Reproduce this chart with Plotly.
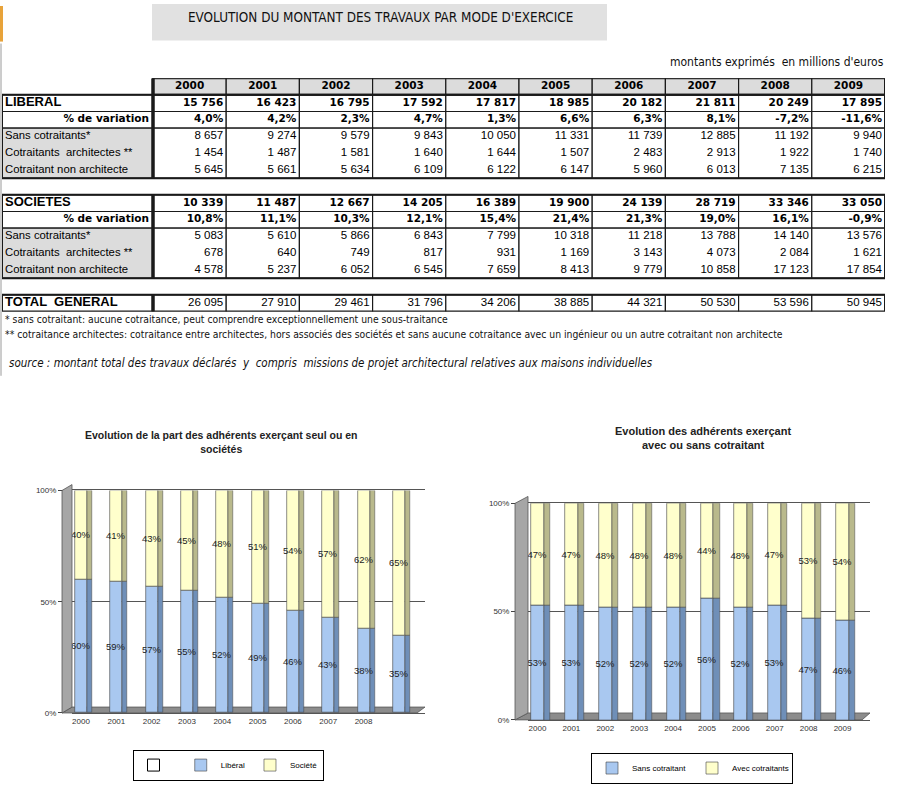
import plotly.graph_objects as go

# ---------------- data ----------------
years = ["2000", "2001", "2002", "2003", "2004", "2005", "2006", "2007", "2008", "2009"]

lib_total = [15756, 16423, 16795, 17592, 17817, 18985, 20182, 21811, 20249, 17895]
lib_var = [4.0, 4.2, 2.3, 4.7, 1.3, 6.6, 6.3, 8.1, -7.2, -11.6]
lib_sans = [8657, 9274, 9579, 9843, 10050, 11331, 11739, 12885, 11192, 9940]
lib_archi = [1454, 1487, 1581, 1640, 1644, 1507, 2483, 2913, 1922, 1740]
lib_nonarchi = [5645, 5661, 5634, 6109, 6122, 6147, 5960, 6013, 7135, 6215]

soc_total = [10339, 11487, 12667, 14205, 16389, 19900, 24139, 28719, 33346, 33050]
soc_var = [10.8, 11.1, 10.3, 12.1, 15.4, 21.4, 21.3, 19.0, 16.1, -0.9]
soc_sans = [5083, 5610, 5866, 6843, 7799, 10318, 11218, 13788, 14140, 13576]
soc_archi = [678, 640, 749, 817, 931, 1169, 3143, 4073, 2084, 1621]
soc_nonarchi = [4578, 5237, 6052, 6545, 7659, 8413, 9779, 10858, 17123, 17854]

total_general = [26095, 27910, 29461, 31796, 34206, 38885, 44321, 50530, 53596, 50945]

# chart 1 : part libéral / société (%)
c1_labels = ["2000", "2001", "2002", "2003", "2004", "2005", "2006", "2007", "2008", ""]
c1_liberal = [60, 59, 57, 55, 52, 49, 46, 43, 38, 35]
c1_societe = [40, 41, 43, 45, 48, 51, 54, 57, 62, 65]

# chart 2 : sans / avec cotraitant (%)
c2_labels = years
c2_sans = [53, 53, 52, 52, 52, 56, 52, 53, 47, 46]
c2_avec = [47, 47, 48, 48, 48, 44, 48, 47, 53, 54]

# ---------------- helpers ----------------
W, H = 900, 805
def px(x):
    return x / W
def py(y):
    return 1 - y / H

def fmt_int(v):
    return f"{v:,}".replace(",", " ")

def fmt_pct(v):
    return f"{v:.1f}%".replace(".", ",")

fig = go.Figure()

# ---------------- table (drawn on a hidden pixel-scaled axis pair x3/y3) ----------------
rows = [
    ("LIBERAL", "bold", [fmt_int(v) for v in lib_total]),
    ("% de variation", "var", [fmt_pct(v) for v in lib_var]),
    ("Sans cotraitants*", "detail", [fmt_int(v) for v in lib_sans]),
    ("Cotraitants  architectes **", "detail", [fmt_int(v) for v in lib_archi]),
    ("Cotraitant non architecte", "detail", [fmt_int(v) for v in lib_nonarchi]),
    ("", "blank", None),
    ("SOCIETES", "bold", [fmt_int(v) for v in soc_total]),
    ("% de variation", "var", [fmt_pct(v) for v in soc_var]),
    ("Sans cotraitants*", "detail", [fmt_int(v) for v in soc_sans]),
    ("Cotraitants  architectes **", "detail", [fmt_int(v) for v in soc_archi]),
    ("Cotraitant non architecte", "detail", [fmt_int(v) for v in soc_nonarchi]),
    ("", "blank", None),
    ("TOTAL  GENERAL", "total", [fmt_int(v) for v in total_general]),
]

T_X0, T_X1, T_Y0, T_Y1 = 2, 885, 75, 311
FIRST_W = 151
COL_W = (T_X1 - T_X0 - FIRST_W) / len(years)
ROW_H = (T_Y1 - T_Y0) / (len(rows) + 1)
col_edges = [T_X0, T_X0 + FIRST_W] + [T_X0 + FIRST_W + COL_W * (k + 1) for k in range(len(years))]
def row_top(k):  # k = 0 header, k>=1 body rows
    return T_Y0 + ROW_H * k

GREY = "#dcdcdc"
LINE = "#1a1a1a"
shapes = []
def rect(x0, x1, y0, y1, fill, lw=1.2, line=LINE):
    shapes.append(dict(type="rect", xref="x3", yref="y3", x0=x0, x1=x1, y0=y0, y1=y1,
                       fillcolor=fill, line=dict(color=line, width=lw), layer="below"))

for j in range(len(years)):
    rect(col_edges[j + 1], col_edges[j + 2], row_top(0), row_top(1), GREY)
k = 0
while k < len(rows):
    lab, kind, vals = rows[k]
    top = row_top(k + 1)
    if kind == "blank":
        k += 1
        continue
    if kind == "detail":
        n = 1
        while k + n < len(rows) and rows[k + n][1] == "detail":
            n += 1
        bot = row_top(k + 1 + n)
        for j in range(len(col_edges) - 1):
            rect(col_edges[j], col_edges[j + 1], top, bot, GREY if j == 0 else "white")
        k += n
        continue
    for j in range(len(col_edges) - 1):
        rect(col_edges[j], col_edges[j + 1], top, row_top(k + 2), "white")
    k += 1

blocks = [(row_top(1), row_top(6)), (row_top(7), row_top(12)), (row_top(13), row_top(14))]
for y0, y1 in blocks:
    shapes.append(dict(type="rect", xref="x3", yref="y3", x0=T_X0, x1=T_X1, y0=y0, y1=y1,
                       line=dict(color=LINE, width=2), layer="below"))
    shapes.append(dict(type="line", xref="x3", yref="y3", x0=col_edges[1], x1=col_edges[1], y0=y0, y1=y1,
                       line=dict(color=LINE, width=3.5), layer="below"))
shapes.append(dict(type="rect", xref="x3", yref="y3", x0=col_edges[1], x1=T_X1, y0=row_top(0), y1=row_top(1),
                   line=dict(color=LINE, width=2), layer="below"))
shapes.append(dict(type="line", xref="x3", yref="y3", x0=col_edges[1], x1=col_edges[1], y0=row_top(0), y1=row_top(1),
                   line=dict(color=LINE, width=3.5), layer="below"))

def add_text(xs, ys, texts, pos, size, family, bold=False):
    fig.add_trace(go.Scatter(x=xs, y=ys, text=[f"<b>{t}</b>" if bold else t for t in texts], mode="text",
                             textposition=pos, textfont=dict(size=size, family=family, color="black"),
                             xaxis="x3", yaxis="y3", showlegend=False, hoverinfo="skip", cliponaxis=False))

WIDEB = "DejaVu Sans, Verdana, sans-serif"
ARIAL = "Liberation Sans, Arial, sans-serif"
mid = lambda kk: (row_top(kk) + row_top(kk + 1)) / 2

add_text([(col_edges[j + 1] + col_edges[j + 2]) / 2 for j in range(len(years))], [mid(0)] * len(years),
         years, "middle center", 10.5, WIDEB, bold=True)
for k, (lab, kind, vals) in enumerate(rows):
    if kind == "blank":
        continue
    yk = mid(k + 1)
    if kind in ("bold", "total"):
        add_text([T_X0 + 3], [yk], [lab], "middle right", 13, ARIAL, bold=True)
    elif kind == "var":
        add_text([col_edges[1] - 4], [yk], [lab], "middle left", 10.5, WIDEB, bold=True)
    else:
        add_text([T_X0 + 3], [yk], [lab], "middle right", 11.3, ARIAL)
    xs = [col_edges[j + 2] - 3 for j in range(len(years))]
    if kind in ("bold", "var"):
        add_text(xs, [yk] * len(years), vals, "middle left", 10.5, WIDEB, bold=True)
    else:
        add_text(xs, [yk] * len(years), vals, "middle left", 11.5, ARIAL)

# ---------------- charts ----------------
BLUE = "#a9c8f0"
BLUE_SIDE = "#6f8fb8"
YEL = "#ffffcc"
YEL_SIDE = "#b9b98c"
EDGE = "#404040"
LBLFONT = dict(size=9.5, color="#222", family="Liberation Sans Narrow, Arial Narrow, Liberation Sans, Arial")

def add_3d_bars(xs, low, high, low_name, high_name, xa, ya, legend, w, s, dummy):
    if dummy:
        fig.add_trace(go.Bar(x=xs, y=[None] * len(xs), name=" ", marker=dict(color="white", line=dict(color="black", width=1)),
                             xaxis=xa, yaxis=ya, legend=legend, showlegend=True))
    fig.add_trace(go.Bar(x=xs, y=low, base=0, width=s, offset=w / 2, marker=dict(color=BLUE_SIDE, line=dict(color=EDGE, width=0.5)),
                         xaxis=xa, yaxis=ya, showlegend=False, hoverinfo="skip"))
    fig.add_trace(go.Bar(x=xs, y=high, base=low, width=s, offset=w / 2, marker=dict(color=YEL_SIDE, line=dict(color=EDGE, width=0.5)),
                         xaxis=xa, yaxis=ya, showlegend=False, hoverinfo="skip"))
    fig.add_trace(go.Bar(x=xs, y=low, base=0, width=w, offset=-w / 2, name=low_name,
                         marker=dict(color=BLUE, line=dict(color=EDGE, width=0.6)),
                         text=[f"{v}%" for v in low], textposition="inside", insidetextanchor="middle",
                         constraintext="none", textangle=0, textfont=LBLFONT,
                         xaxis=xa, yaxis=ya, legend=legend))
    fig.add_trace(go.Bar(x=xs, y=high, base=low, width=w, offset=-w / 2, name=high_name,
                         marker=dict(color=YEL, line=dict(color=EDGE, width=0.6)),
                         text=[f"{v}%" for v in high], textposition="inside", insidetextanchor="middle",
                         constraintext="none", textangle=0, textfont=LBLFONT,
                         xaxis=xa, yaxis=ya, legend=legend))

c1_x = list(range(len(c1_liberal)))
c2_x = list(range(len(c2_sans)))
add_3d_bars(c1_x, c1_liberal, c1_societe, "Libéral", "Société", "x", "y", "legend", 0.34, 0.14, True)
add_3d_bars(c2_x, c2_sans, c2_avec, "Sans cotraitant", "Avec cotraitants", "x2", "y2", "legend2", 0.38, 0.18, False)

tickfont = dict(size=8, color="#333", family="Liberation Sans, Arial, sans-serif")
ax_common = dict(showline=True, linecolor="#555", linewidth=1, mirror=True, showgrid=False, zeroline=False, fixedrange=True)

fig.update_layout(
    width=W, height=H, margin=dict(l=0, r=0, t=0, b=0),
    paper_bgcolor="white", plot_bgcolor="white",
    barmode="overlay", bargap=0,
    font=dict(family="Liberation Sans, Arial, sans-serif", color="black"),
    xaxis=dict(domain=[px(72), px(425)], range=[-0.255, 9.74], tickmode="array",
               tickvals=c1_x, ticktext=c1_labels, ticks="", tickfont=tickfont, anchor="y", **ax_common),
    yaxis=dict(domain=[py(717), py(492)], range=[0, 100], tickvals=[0, 50, 100], ticktext=["0%", "50%", "100%"],
               anchor="free", position=px(62), ticks="outside", ticklen=4, tickfont=tickfont,
               showline=True, linecolor="#555", showgrid=True, gridcolor="#555", gridwidth=1, zeroline=False, fixedrange=True),
    xaxis2=dict(domain=[px(528), px(870)], range=[-0.28, 9.81], tickmode="array",
                tickvals=c2_x, ticktext=c2_labels, ticks="", tickfont=tickfont, anchor="y2", **ax_common),
    yaxis2=dict(domain=[py(724), py(505)], range=[0, 100], tickvals=[0, 50, 100], ticktext=["0%", "50%", "100%"],
                anchor="free", position=px(515), ticks="outside", ticklen=4, tickfont=tickfont,
                showline=True, linecolor="#555", showgrid=True, gridcolor="#555", gridwidth=1, zeroline=False, fixedrange=True),
    xaxis3=dict(domain=[px(T_X0), px(T_X1)], range=[T_X0, T_X1], visible=False, fixedrange=True, anchor="y3"),
    yaxis3=dict(domain=[py(T_Y1), py(T_Y0)], range=[T_Y1, T_Y0], visible=False, fixedrange=True, anchor="x3"),
    legend=dict(orientation="h", x=px(228), xanchor="center", y=py(754), yanchor="top",
                bordercolor="black", borderwidth=1, bgcolor="white",
                font=dict(size=8, family="Liberation Sans, Arial"), itemwidth=30, traceorder="normal"),
    legend2=dict(orientation="h", x=px(692), xanchor="center", y=py(757), yanchor="top",
                 bordercolor="black", borderwidth=1, bgcolor="white", entrywidth=55, entrywidthmode="pixels",
                 font=dict(size=8, family="Liberation Sans, Arial"), itemwidth=30, traceorder="normal"),
)

def wall_path(x_front, x_back, y_front_bot, y_back_bot, y_front_top, y_back_top, x_right_back, x_right_front):
    wall = f"M {px(x_front)} {py(y_front_bot)} L {px(x_back)} {py(y_back_bot)} L {px(x_back)} {py(y_back_top)} L {px(x_front)} {py(y_front_top)} Z"
    floor = f"M {px(x_front)} {py(y_front_bot)} L {px(x_back)} {py(y_back_bot)} L {px(x_right_back)} {py(y_back_bot)} L {px(x_right_front)} {py(y_front_bot)} Z"
    return wall, floor

for args in [(62, 72, 717, 711, 492, 486, 425, 417), (515, 528, 724, 717, 505, 498, 870, 862)]:
    wall, floor = wall_path(*args)
    shapes.append(dict(type="path", path=wall, xref="paper", yref="paper", fillcolor="#a6a6a6", line=dict(color="#555", width=0.8), layer="above"))
    shapes.append(dict(type="path", path=floor, xref="paper", yref="paper", fillcolor="#8c8c8c", line=dict(color="#555", width=0.8), layer="below"))

shapes.append(dict(type="rect", xref="paper", yref="paper", x0=px(152), x1=px(607), y0=py(37), y1=py(0),
                   fillcolor="#e1e1e1", line=dict(width=0), layer="below"))
shapes.append(dict(type="rect", xref="paper", yref="paper", x0=0, x1=px(3), y0=py(38), y1=py(2),
                   fillcolor="#e8a33a", line=dict(width=0)))
shapes.append(dict(type="line", xref="paper", yref="paper", x0=px(1), x1=px(1), y0=py(376), y1=py(40),
                   line=dict(color="#9a9a9a", width=1)))
fig.update_layout(shapes=shapes)

narrow = "Liberation Sans Narrow, Arial Narrow, DejaVu Sans Condensed, sans-serif"
ann = [
    dict(text="EVOLUTION DU MONTANT DES TRAVAUX PAR MODE D'EXERCICE", x=px(380), y=py(14), xanchor="center", yanchor="middle",
         font=dict(size=13.4, family=narrow, color="#111")),
    dict(text="montants exprimés  en millions d'euros", x=px(886), y=py(59), xanchor="right", yanchor="middle",
         font=dict(size=12, family=narrow, color="#111")),
    dict(text="* sans cotraitant: aucune cotraitance, peut comprendre exceptionnellement une sous-traitance",
         x=px(3), y=py(319), xanchor="left", yanchor="middle", font=dict(size=10.3, family=narrow, color="#111")),
    dict(text="** cotraitance architectes: cotraitance entre architectes, hors associés des sociétés et sans aucune cotraitance avec un ingénieur ou un autre cotraitant non architecte",
         x=px(3), y=py(334), xanchor="left", yanchor="middle", font=dict(size=10.3, family=narrow, color="#111")),
    dict(text="<i>source : montant total des travaux déclarés  y  compris  missions de projet architectural relatives aux maisons individuelles</i>",
         x=px(7), y=py(363), xanchor="left", yanchor="middle", font=dict(size=11.5, family=narrow, color="#111")),
    dict(text="<b>Evolution de la part des adhérents exerçant seul ou en<br>sociétés</b>", x=px(221), y=py(443),
         xanchor="center", yanchor="middle", font=dict(size=10.5, family="Liberation Sans, Arial", color="#222")),
    dict(text="<b>Evolution des adhérents exerçant<br>avec ou sans cotraitant</b>", x=px(703), y=py(439),
         xanchor="center", yanchor="middle", font=dict(size=11, family="Liberation Sans, Arial", color="#222")),
]
for a in ann:
    a.update(xref="paper", yref="paper", showarrow=False)
fig.update_layout(annotations=ann)

fig.write_html("out.html", config={"displayModeBar": False},
               post_script="document.body.style.margin='0';")
